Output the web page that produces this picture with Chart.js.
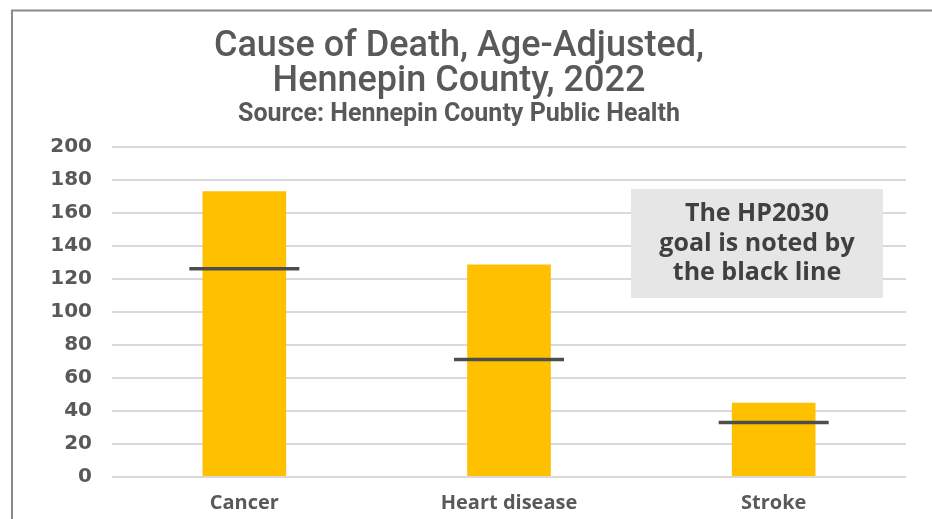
<!DOCTYPE html>
<html>
<head>
<meta charset="utf-8">
<title>Cause of Death, Age-Adjusted</title>
<script src="https://cdn.jsdelivr.net/npm/chart.js@4"></script>
<style>
  html, body { margin: 0; padding: 0; background: #fff; overflow: hidden; }
  canvas { display: block; }
</style>
</head>
<body>
<canvas id="myChart" width="932" height="519"></canvas>
<script>
// Datos del gráfico
const causas = ["Cancer", "Heart disease", "Stroke"];
const tasas = [173, 128.6, 44.9]; // tasa ajustada por edad, 2022
const metasHP2030 = [126, 71.1, 33]; // meta HP2030 (línea negra)
const ticksY = [0, 20, 40, 60, 80, 100, 120, 140, 160, 180, 200];
const notaLineas = ["The HP2030", "goal is noted by", "the black line"];

const gris = "#595959";

// Marco gris arriba y a la izquierda
const marcoPlugin = {
  id: "marco",
  beforeDraw(chart) {
    const ctx = chart.ctx;
    ctx.save();
    ctx.strokeStyle = "#8a8a8a";
    ctx.lineWidth = 2;
    ctx.beginPath();
    ctx.moveTo(12, chart.height);
    ctx.lineTo(12, 10.5);
    ctx.lineTo(chart.width, 10.5);
    ctx.stroke();
    ctx.restore();
  },
};

// Caja gris con la nota sobre la meta
const notaPlugin = {
  id: "nota",
  afterDatasetsDraw(chart) {
    const ctx = chart.ctx;
    const area = chart.chartArea;
    const w = 252, h = 109;
    const x = area.right - 23 - w;
    const y = 189;
    ctx.save();
    ctx.fillStyle = "#e7e6e6";
    ctx.fillRect(x, y, w, h);
    ctx.fillStyle = "#404040";
    ctx.font = "bold 25px 'Open Sans'";
    ctx.textAlign = "center";
    ctx.textBaseline = "middle";
    notaLineas.forEach((t, i) => {
      ctx.fillText(t, x + w / 2, y + 25 + i * 29.5);
    });
    ctx.restore();
  },
};

const ctx = document.getElementById("myChart").getContext("2d");

const myChart = new Chart(ctx, {
  type: "bar",
  data: {
    labels: causas,
    datasets: [
      {
        type: "line",
        label: "Meta HP2030",
        data: metasHP2030,
        showLine: false,
        pointStyle: "line",
        pointRadius: 55,
        pointHoverRadius: 55,
        pointBorderWidth: 3.5,
        pointBorderColor: "#4d4d4d",
        borderColor: "#4d4d4d",
        clip: false,
        order: 0,
      },
      {
        label: "Tasa",
        data: tasas,
        backgroundColor: "#ffc000",
        barPercentage: 0.316,
        categoryPercentage: 1,
        order: 1,
      },
    ],
  },
  options: {
    responsive: false,
    animation: false,
    layout: {
      autoPadding: false, // el radio grande de los puntos no debe encoger el área
      padding: { top: 0, left: 12, right: 26, bottom: 4 },
    },
    plugins: {
      legend: { display: false },
      tooltip: { enabled: false },
      title: {
        display: true,
        text: ["Cause of Death, Age-Adjusted,", "Hennepin County, 2022"],
        color: gris,
        font: { family: "Roboto", size: 36, weight: "500", lineHeight: 0.98 },
        padding: { top: 29, bottom: 3 },
      },
      subtitle: {
        display: true,
        text: "Source: Hennepin County Public Health",
        color: gris,
        font: { family: "Roboto", size: 25, weight: "bold", lineHeight: 1 },
        padding: { top: 0, bottom: 19 },
      },
    },
    scales: {
      x: {
        afterFit(scale) {
          scale.height = 38;
        },
        grid: { display: false, drawTicks: false },
        border: { display: false },
        ticks: {
          color: gris,
          padding: 14,
          font: { family: "Open Sans", size: 20, weight: "bold" },
        },
      },
      y: {
        min: 0,
        max: 200,
        afterFit(scale) {
          scale.width = 100;
        },
        afterBuildTicks(scale) {
          scale.ticks = ticksY.map((v) => ({ value: v }));
        },
        grid: { color: "#d9d9d9", lineWidth: 2, drawTicks: false },
        border: { display: false },
        ticks: {
          color: gris,
          padding: 20,
          font: { family: "DejaVu Sans", size: 20, weight: "bold" },
        },
      },
    },
  },
  plugins: [marcoPlugin, notaPlugin],
});
</script>
</body>
</html>
